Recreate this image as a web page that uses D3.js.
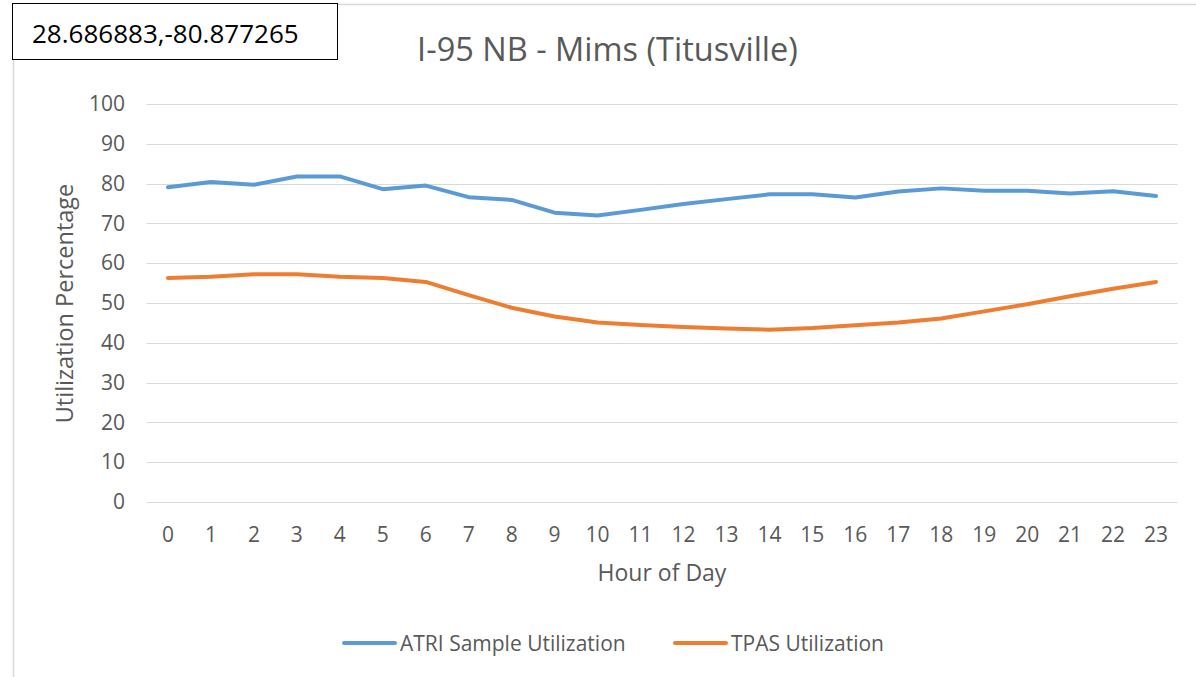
<!DOCTYPE html>
<html><head><meta charset="utf-8">
<script src="https://cdn.jsdelivr.net/npm/d3@7"></script>
<style>body{margin:0;background:#fff;}svg{display:block;}</style>
</head><body>
<script>
const hours = d3.range(0,24).map(String);
const atri = [79.1,80.4,79.7,81.8,81.8,78.6,79.5,76.6,75.9,72.7,72.0,73.4,74.9,76.1,77.3,77.3,76.5,78.0,78.8,78.2,78.2,77.5,78.1,76.9];
const tpas = [56.3,56.6,57.2,57.2,56.6,56.3,55.3,52.0,48.8,46.6,45.1,44.5,44.0,43.6,43.3,43.7,44.4,45.1,46.1,47.9,49.7,51.7,53.6,55.3];
const yTicks = [0,10,20,30,40,50,60,70,80,90,100];
const seriesNames = ["ATRI Sample Utilization","TPAS Utilization"];
const colors = ["#5B9BD5","#ED7D31"];
const title = "I-95 NB - Mims (Titusville)";
const coordText = "28.686883,-80.877265";

const W=1196,H=677;
const font = "'Open Sans', sans-serif";
const svg = d3.select("body").append("svg").attr("width",W).attr("height",H);
svg.append("rect").attr("width",W).attr("height",H).attr("fill","#fff");
// chart outer border
svg.append("rect").attr("x",13.5).attr("y",4.5).attr("width",W+10).attr("height",H+10)
  .attr("fill","none").attr("stroke","#d9d9d9").attr("stroke-width",1.5);

const x = d3.scaleBand().domain(hours).range([146.5,1177.5]);
const y = d3.scaleLinear().domain([0,100]).range([502,104]);

const g = svg.append("g");
// gridlines
g.selectAll(".grid").data(yTicks).join("line")
  .attr("x1",146.5).attr("x2",1177.5)
  .attr("y1",d=>Math.round(y(d))+0.5).attr("y2",d=>Math.round(y(d))+0.5)
  .attr("stroke","#d9d9d9").attr("stroke-width",1);

// y axis labels
const ya = svg.append("g").attr("transform","translate(146,0)")
  .call(d3.axisLeft(y).tickValues(yTicks).tickSize(0).tickPadding(21));
ya.select(".domain").remove();
ya.selectAll("text").attr("font-family",font).attr("font-size",21).attr("fill","#595959");

// x axis labels
const xa = svg.append("g").attr("transform","translate(0,502)")
  .call(d3.axisBottom(x).tickSize(0).tickPadding(0));
xa.select(".domain").remove();
xa.selectAll("text").attr("font-family",font).attr("font-size",21).attr("fill","#595959")
  .attr("dy",null).attr("y",40);

// lines
const line = d3.line().x((d,i)=>x(hours[i])+x.bandwidth()/2).y(d=>y(d)).curve(d3.curveLinear);
[atri,tpas].forEach((s,i)=>{
  svg.append("path").datum(s).attr("d",line).attr("fill","none")
    .attr("stroke",colors[i]).attr("stroke-width",4).attr("stroke-linejoin","round").attr("stroke-linecap","round");
});

// title
svg.append("text").attr("x",607.5).attr("y",61).attr("text-anchor","middle")
  .attr("font-family",font).attr("font-size",32.5).attr("fill","#595959").text(title);

// axis titles
svg.append("text").attr("transform","translate(73,303.5) rotate(-90)").attr("text-anchor","middle")
  .attr("font-family",font).attr("font-size",23.5).attr("fill","#595959").text("Utilization Percentage");
svg.append("text").attr("x",662).attr("y",581).attr("text-anchor","middle")
  .attr("font-family",font).attr("font-size",23).attr("fill","#595959").text("Hour of Day");

// legend
const legX = [342,673];
seriesNames.forEach((n,i)=>{
  svg.append("line").attr("x1",legX[i]+2).attr("x2",legX[i]+53).attr("y1",643).attr("y2",643)
    .attr("stroke",colors[i]).attr("stroke-width",4).attr("stroke-linecap","round");
  svg.append("text").attr("x",legX[i]+58).attr("y",650.5)
    .attr("font-family",font).attr("font-size",21).attr("fill","#595959").text(n);
});

// coordinate box
svg.append("rect").attr("x",12.5).attr("y",3.5).attr("width",325).attr("height",56)
  .attr("fill","#fff").attr("stroke","#000").attr("stroke-width",1);
svg.append("text").attr("x",32).attr("y",43).attr("font-family",font).attr("font-size",26).attr("fill","#000").text(coordText);
</script>
</body></html>
